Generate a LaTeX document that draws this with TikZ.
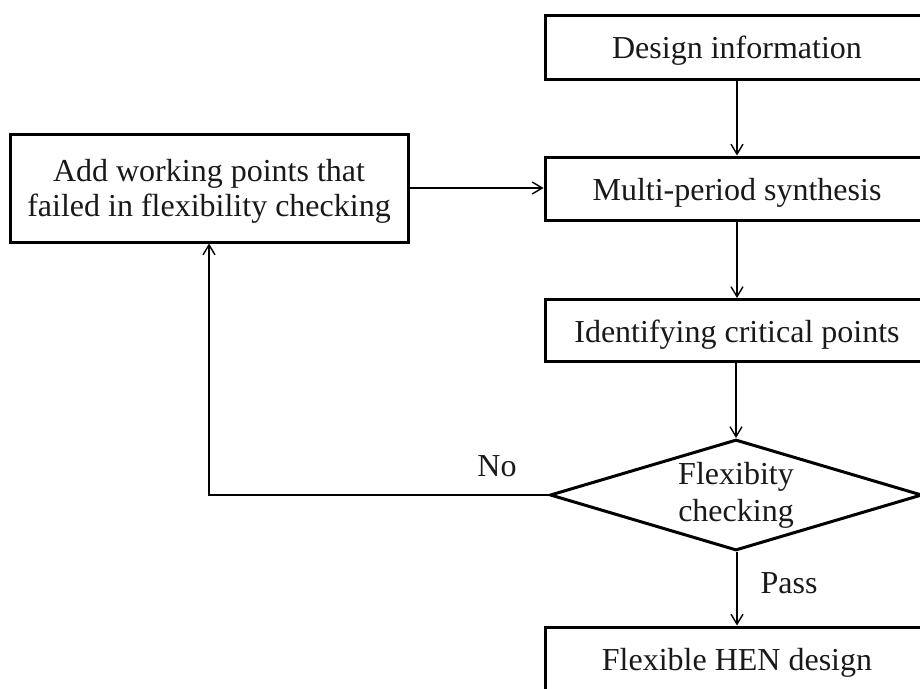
\documentclass[tikz,border=0pt]{standalone}
\usepackage{fontspec}
\setmainfont{Liberation Serif}
\usetikzlibrary{arrows.meta,shapes.geometric}

\tikzset{
  stepbox/.style={draw, line width=3pt, rectangle, minimum width=384pt,
    inner sep=0pt, align=center, text height=25pt, text depth=2pt},
  decide/.style={draw, line width=3pt, diamond, aspect=3.35,
    minimum width=372pt, minimum height=111pt, inner sep=0pt, align=center},
  flow/.style={line width=1.6pt, -{Straight Barb[length=10pt,width=12pt,line width=1.4pt]}},
  lbl/.style={inner sep=0pt}
}

\begin{document}
\begin{tikzpicture}[x=1pt, y=-1pt,
  every node/.style={font=\fontsize{32}{36}\selectfont, text=black!90}]
  \useasboundingbox (0,0) rectangle (920,688);
  \clip (0,0) rectangle (920,688);

  % main column of process steps
  \node[stepbox, minimum height=64pt] (design) at (737,47) {Design information};
  \node[stepbox, minimum height=63pt] (multi) at (737,188.5) {Multi-period synthesis};
  \node[stepbox, minimum height=62pt] (ident) at (737,330.5) {Identifying critical points};
  \node[decide, font=\fontsize{32}{37}\selectfont] (check) at (736,495) {Flexibity\\checking};
  \node[stepbox, minimum height=64pt] (hen) at (737,659) {Flexible HEN design};

  % feedback step on the left: frame and its two-line text
  \node[stepbox, minimum width=398pt, minimum height=108pt] (add) at (209,188) {};
  \node[lbl, align=center, font=\fontsize{32}{35}\selectfont] (addtext) at (209,191)
    {Add working points that\\failed in flexibility checking};

  % connectors
  \draw[flow] (design.south) -- (multi.north);
  \draw[flow] (multi.south) -- (ident.north);
  \draw[flow] (ident.south -| check.north) -- (check.north);
  \draw[flow] (check.south -| hen.north) -- (hen.north);
  \draw[flow] (add.east) -- (add.east -| multi.west);
  \draw[flow] (check.west) -| (add.south);

  % branch labels
  \node[lbl] (pass) at (789,583) {Pass};
  \node[lbl] (no) at (497,466) {No};
\end{tikzpicture}
\end{document}
